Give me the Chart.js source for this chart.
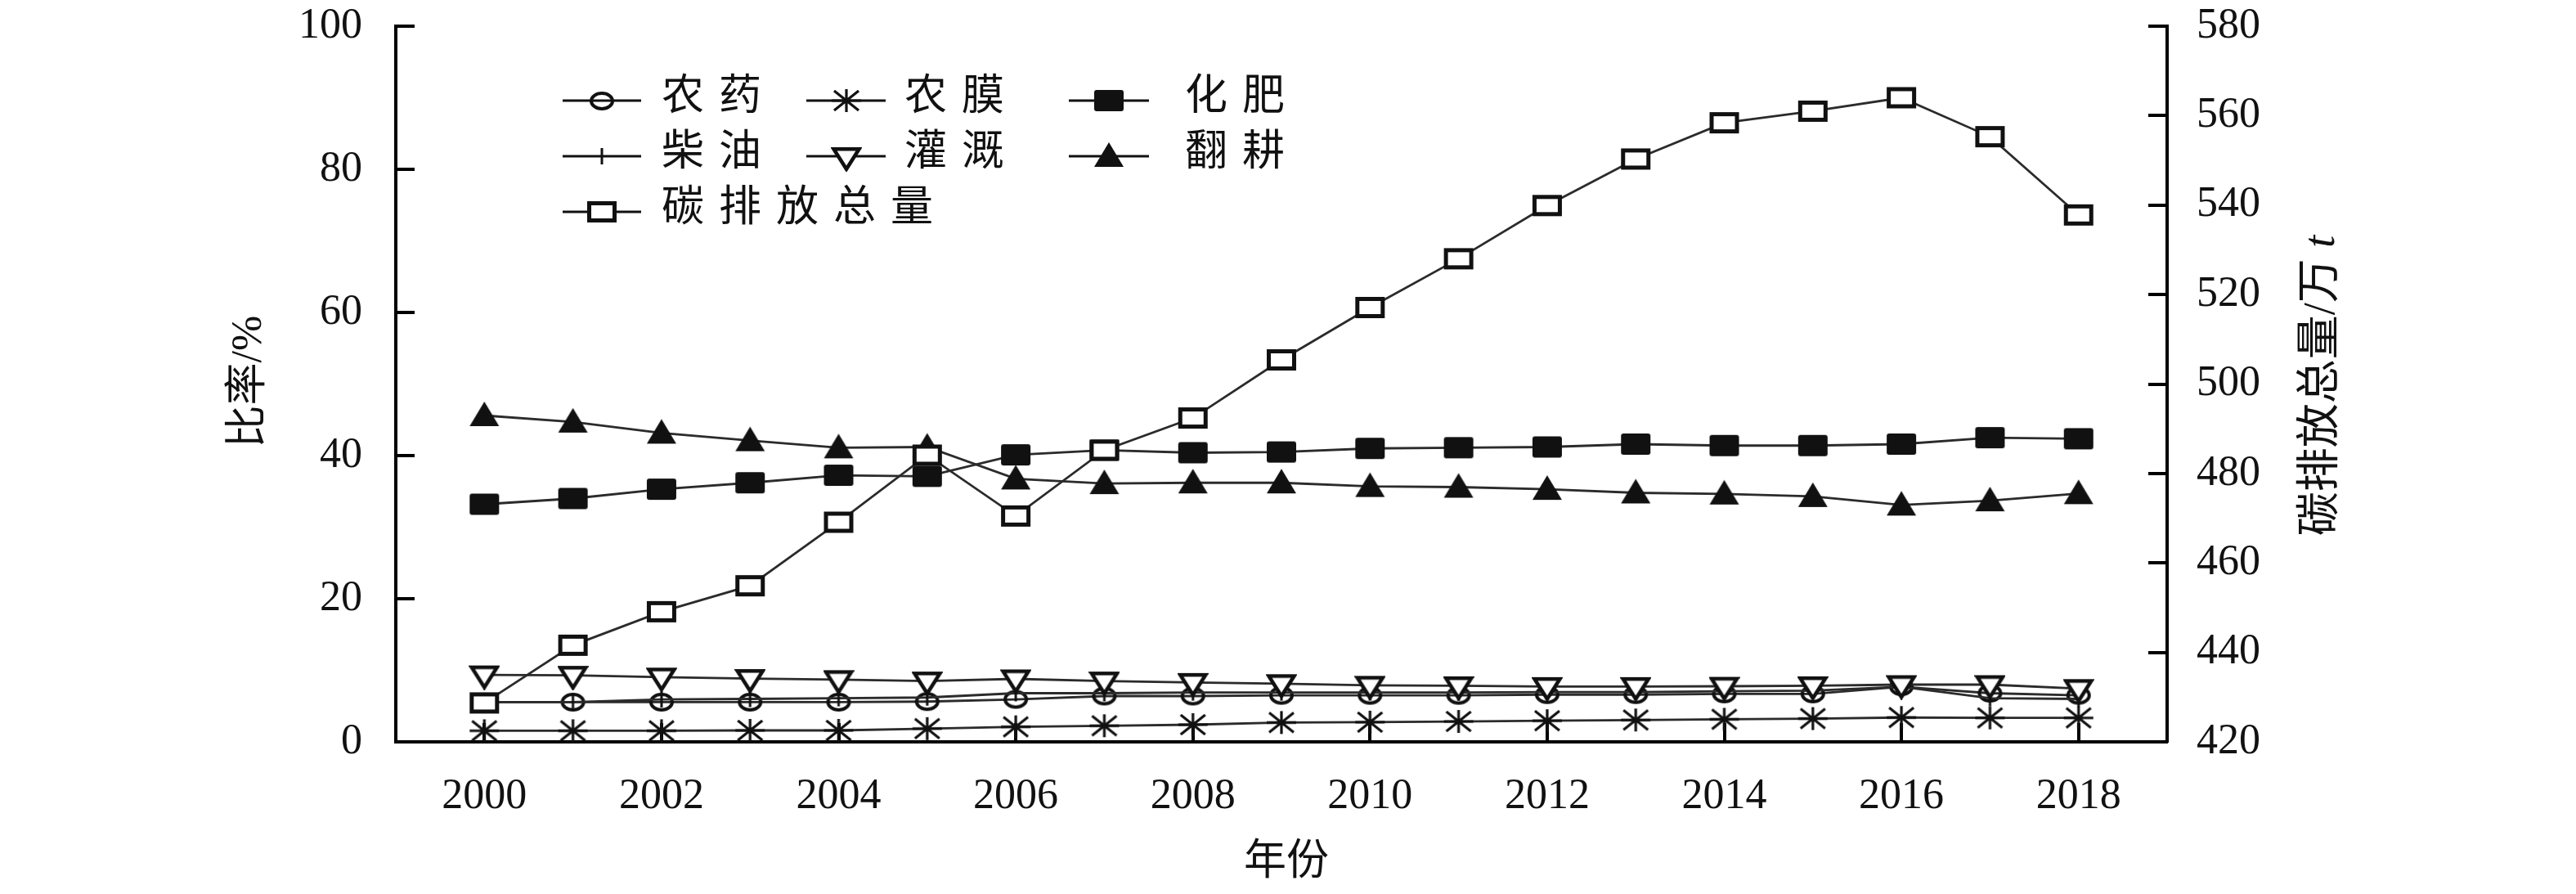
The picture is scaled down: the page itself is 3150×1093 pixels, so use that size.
<!DOCTYPE html>
<html><head><meta charset="utf-8">
<script src="https://cdn.jsdelivr.net/npm/chart.js@4.4.1/dist/chart.umd.min.js"></script>
<style>html,body{margin:0;padding:0;background:#fff;}#wrap{width:3150px;height:1093px;}</style>
</head><body><div id="wrap"><canvas id="c" width="3150" height="1093"></canvas></div>
<script>
// ---------------- data ----------------
const years = [2000,2001,2002,2003,2004,2005,2006,2007,2008,2009,2010,2011,2012,2013,2014,2015,2016,2017,2018];
const xTickLabels = [2000,2002,2004,2006,2008,2010,2012,2014,2016,2018];
const leftTicks = [0,20,40,60,80,100];
const rightTicks = [420,440,460,480,500,520,540,560,580];
const seriesNames = ['农药','农膜','化肥','柴油','灌溉','翻耕','碳排放总量'];
const pesticide  = [5.55,5.55,5.55,5.55,5.55,5.63,5.94,6.4,6.4,6.5,6.5,6.5,6.6,6.6,6.7,6.7,7.7,6.8,6.5];
const film       = [1.55,1.55,1.55,1.6,1.6,1.85,2.1,2.25,2.4,2.7,2.75,2.85,2.95,3.05,3.15,3.25,3.4,3.35,3.35];
const fertilizer = [33.2,34.0,35.3,36.2,37.25,37.1,40.1,40.75,40.4,40.5,41.0,41.1,41.2,41.6,41.4,41.4,41.6,42.5,42.35];
const diesel     = [5.55,5.55,5.94,6.0,6.1,6.2,6.8,6.8,6.9,6.9,6.9,6.9,6.96,6.96,7.08,7.15,7.7,6.1,6.0];
const irrigation = [9.36,9.3,9.05,8.85,8.7,8.5,8.8,8.5,8.3,8.14,7.9,7.84,7.73,7.73,7.77,7.84,8.0,8.0,7.45];
const tillage    = [45.6,44.7,43.15,42.1,41.1,41.2,36.75,36.1,36.2,36.2,35.7,35.6,35.3,34.8,34.65,34.3,33.1,33.7,34.7];
const carbonTotal= [428.7,441.6,449.1,454.9,469.1,484.1,470.5,485.2,492.4,505.4,517.1,528.0,539.9,550.3,558.4,561.0,564.0,555.3,537.8];
const leftTitle = '比率/%';
const rightTitle = '碳排放总量/万';
const rightTitleUnit = 't';
const xTitle = '年份';

// ---------------- styles ----------------
const INK = '#111';
const LINE = '#2b2b2b';
const NUMFONT = '"Liberation Serif", "Times New Roman", serif';
const CJKFONT = '"Liberation Serif", "Noto Sans CJK SC", serif';

function mk(w, h, anchorFrac, draw) {
  const top = Math.max(anchorFrac, 1 - anchorFrac) * h - anchorFrac * h;
  const H = Math.ceil(2 * Math.max(anchorFrac, 1 - anchorFrac) * h) + 2;
  const c = document.createElement('canvas');
  c.width = Math.ceil(w) + 2; c.height = H;
  const g = c.getContext('2d');
  g.translate(1, 1 + top);
  draw(g, w, h);
  return c;
}
const markers = {
  circle: mk(30, 23, 0.5, (g, w, h) => {
    g.lineWidth = 4; g.strokeStyle = INK;
    g.beginPath(); g.ellipse(w/2, h/2, w/2 - 2, h/2 - 2, 0, 0, Math.PI*2); g.stroke();
  }),
  star: mk(36, 28, 0.5, (g, w, h) => {
    g.lineWidth = 3.2; g.strokeStyle = INK; g.beginPath();
    g.moveTo(w/2, 0); g.lineTo(w/2, h);
    g.moveTo(3, 2); g.lineTo(w-3, h-2);
    g.moveTo(w-3, 2); g.lineTo(3, h-2);
    g.moveTo(0, h/2); g.lineTo(w, h/2);
    g.stroke();
  }),
  squareFilled: mk(36, 26, 0.5, (g, w, h) => {
    g.fillStyle = INK; g.beginPath(); g.roundRect(0, 0, w, h, 3); g.fill();
  }),
  squareOpen: mk(36, 26, 0.5, (g, w, h) => {
    g.fillStyle = '#fff'; g.fillRect(2, 2, w-4, h-4);
    g.lineWidth = 5; g.strokeStyle = INK; g.strokeRect(2.5, 2.5, w-5, h-5);
  }),
  cross: mk(4, 20, 0.5, (g, w, h) => {
    g.lineWidth = 3; g.strokeStyle = INK; g.beginPath(); g.moveTo(w/2, 0); g.lineTo(w/2, h); g.stroke();
  }),
  triDown: mk(36, 29, 0.4, (g, w, h) => {
    g.lineWidth = 4.5; g.strokeStyle = INK; g.fillStyle = '#fff'; g.lineJoin = 'miter';
    g.beginPath(); g.moveTo(2.5, 2.5); g.lineTo(w-2.5, 2.5); g.lineTo(w/2, h-2); g.closePath(); g.fill(); g.stroke();
  }),
  triUp: mk(36, 30, 0.56, (g, w, h) => {
    g.fillStyle = INK; g.beginPath(); g.moveTo(w/2, 0); g.lineTo(w, h); g.lineTo(0, h); g.closePath(); g.fill();
  })
};

function ds(label, values, marker, axis, order) {
  return {
    label, data: years.map((x, i) => ({x, y: values[i]})), yAxisID: axis,
    borderColor: LINE, borderWidth: 2.8, backgroundColor: 'transparent',
    pointStyle: marker, pointRadius: 12, pointHoverRadius: 12, tension: 0, order, clip: false
  };
}
const datasets = [
  ds(seriesNames[0], pesticide, markers.circle, 'y', 3),
  ds(seriesNames[1], film, markers.star, 'y', 3),
  ds(seriesNames[2], fertilizer, markers.squareFilled, 'y', 3),
  ds(seriesNames[3], diesel, markers.cross, 'y', 2),
  ds(seriesNames[4], irrigation, markers.triDown, 'y', 1),
  ds(seriesNames[5], tillage, markers.triUp, 'y', 3),
  ds(seriesNames[6], carbonTotal, markers.squareOpen, 'y1', 0)
];
const legendMarkers = [markers.circle, markers.star, markers.squareFilled, markers.cross, markers.triDown, markers.triUp, markers.squareOpen];

const inwardTicks = {
  id: 'inwardTicks',
  beforeDatasetsDraw(chart) {
    const ctx = chart.ctx, a = chart.chartArea, L = 23;
    ctx.save(); ctx.strokeStyle = '#000'; ctx.lineWidth = 4; ctx.lineCap = 'butt';
    const seg = (x1, y1, x2, y2) => { ctx.beginPath(); ctx.moveTo(x1, y1); ctx.lineTo(x2, y2); ctx.stroke(); };
    const sy = chart.scales.y, sy1 = chart.scales.y1, sx = chart.scales.x;
    sy.ticks.forEach(t => { const p = Math.round(sy.getPixelForValue(t.value)); seg(a.left, p, a.left + L, p); });
    sy1.ticks.forEach(t => { const p = Math.round(sy1.getPixelForValue(t.value)); seg(a.right - L, p, a.right, p); });
    sx.ticks.forEach(t => { const p = Math.round(sx.getPixelForValue(t.value)); seg(p, a.bottom, p, a.bottom - L); });
    ctx.restore();
  }
};

const titlesAndLegend = {
  id: 'titlesAndLegend',
  afterDraw(chart) {
    const ctx = chart.ctx, a = chart.chartArea;
    ctx.save();
    ctx.fillStyle = INK;
    ctx.font = '52px ' + CJKFONT; ctx.textAlign = 'center'; ctx.textBaseline = 'middle';
    ctx.fillText(xTitle, (a.left + a.right) / 2 + 6, 1055);
    // left title
    ctx.save(); ctx.translate(305, (a.top + a.bottom) / 2 - 3); ctx.rotate(-Math.PI / 2);
    ctx.fillText(leftTitle, 0, 0); ctx.restore();
    // right title with italic unit
    ctx.save(); ctx.translate(2840, (a.top + a.bottom) / 2 + 2); ctx.rotate(-Math.PI / 2);
    ctx.font = '54px ' + CJKFONT; const w1 = ctx.measureText(rightTitle + ' ').width;
    ctx.font = 'italic 54px ' + NUMFONT; const w2 = ctx.measureText(rightTitleUnit).width;
    const x0 = -(w1 + w2) / 2;
    ctx.textAlign = 'left';
    ctx.font = '54px ' + CJKFONT; ctx.fillText(rightTitle + ' ', x0, 0);
    ctx.font = 'italic 54px ' + NUMFONT; ctx.fillText(rightTitleUnit, x0 + w1, 0);
    ctx.restore();
    // legend
    const rows = [123, 191, 259];
    const cols = [{x1: 688, x2: 784, tx: 809}, {x1: 986, x2: 1083, tx: 1106}, {x1: 1307, x2: 1405, tx: 1449}];
    ctx.font = '52px ' + CJKFONT; ctx.textAlign = 'left'; ctx.textBaseline = 'middle';
    seriesNames.forEach((name, i) => {
      const r = rows[Math.floor(i / 3)], c = cols[i % 3];
      ctx.strokeStyle = INK; ctx.lineWidth = 3;
      ctx.beginPath(); ctx.moveTo(c.x1, r); ctx.lineTo(c.x2, r); ctx.stroke();
      const m = legendMarkers[i];
      ctx.drawImage(m, Math.round((c.x1 + c.x2) / 2 - m.width / 2), Math.round(r - m.height / 2));
      [...name].forEach((ch, k) => ctx.fillText(ch, c.tx + k * 70, r - 3));
    });
    ctx.restore();
  }
};

const noPad = s => { s.paddingTop = 0; s.paddingBottom = 0; s.paddingLeft = 0; s.paddingRight = 0; };
const tickFont = {family: NUMFONT, size: 52};
new Chart(document.getElementById('c'), {
  type: 'line',
  data: {datasets},
  plugins: [inwardTicks, titlesAndLegend],
  options: {
    responsive: false, animation: false, devicePixelRatio: 1,
    layout: {padding: {top: 32, left: 0, right: 0, bottom: 0}},
    plugins: {legend: {display: false}, tooltip: {enabled: false}},
    scales: {
      x: {
        type: 'linear', min: 1999, max: 2019,
        afterBuildTicks: s => { s.ticks = xTickLabels.map(v => ({value: v})); },
        afterFit: s => { s.height = 186; noPad(s); },
        ticks: {font: tickFont, color: INK, padding: 36, maxRotation: 0, autoSkip: false, callback: v => String(v)},
        grid: {drawOnChartArea: false, drawTicks: false},
        border: {display: true, color: '#000', width: 4}
      },
      y: {
        position: 'left', min: 0, max: 100,
        afterBuildTicks: s => { s.ticks = leftTicks.map(v => ({value: v})); },
        afterFit: s => { s.width = 484; noPad(s); },
        ticks: {font: tickFont, color: INK, padding: 41},
        grid: {drawOnChartArea: false, drawTicks: false},
        border: {display: true, color: '#000', width: 4}
      },
      y1: {
        position: 'right', min: 420, max: 580,
        afterBuildTicks: s => { s.ticks = rightTicks.map(v => ({value: v})); },
        afterFit: s => { s.width = 500; noPad(s); },
        ticks: {font: tickFont, color: INK, padding: 36},
        grid: {drawOnChartArea: false, drawTicks: false},
        border: {display: true, color: '#000', width: 4}
      }
    }
  }
});
</script></body></html>
